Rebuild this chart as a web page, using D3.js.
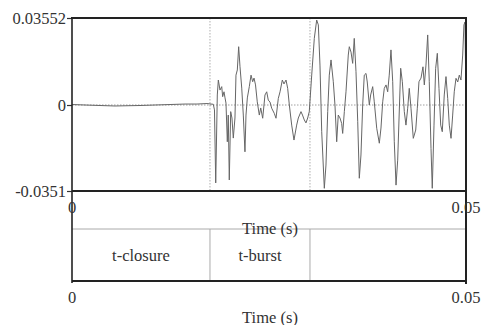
<!DOCTYPE html>
<html>
<head>
<meta charset="utf-8">
<script src="https://cdn.jsdelivr.net/npm/d3@7"></script>
<style>
html,body{margin:0;padding:0;background:#fff;}
svg text{font-family:"Liberation Serif","Times New Roman",serif;fill:#333;}
</style>
</head>
<body>
<svg id="chart" width="483" height="325"></svg>
<script>
// ---- data ----
const timeS = [0,0.00165,0.00355,0.00546,0.00698,0.00863,0.01053,0.01244,0.01434,0.01586,0.01713,0.01764,0.01793,0.01808,0.01824,0.01844,0.01857,0.01878,0.01900,0.01912,0.01929,0.01942,0.01954,0.01971,0.01983,0.01996,0.02014,0.02030,0.02047,0.02068,0.02081,0.02098,0.02115,0.02132,0.02154,0.02174,0.02195,0.02208,0.02225,0.02250,0.02272,0.02293,0.02310,0.02329,0.02351,0.02377,0.02395,0.02420,0.02449,0.02471,0.02491,0.02513,0.02534,0.02567,0.02589,0.02618,0.02640,0.02669,0.02690,0.02716,0.02737,0.02758,0.02788,0.02817,0.02851,0.02872,0.02906,0.02925,0.02948,0.02969,0.02991,0.03011,0.03042,0.03075,0.03105,0.03126,0.03147,0.03169,0.03202,0.03223,0.03245,0.03265,0.03287,0.03316,0.03337,0.03359,0.03379,0.03401,0.03422,0.03435,0.03456,0.03477,0.03506,0.03519,0.03541,0.03562,0.03582,0.03604,0.03626,0.03646,0.03667,0.03689,0.03709,0.03731,0.03747,0.03773,0.03790,0.03816,0.03836,0.03867,0.03900,0.03921,0.03943,0.03963,0.03985,0.04006,0.04026,0.04048,0.04070,0.04090,0.04112,0.04133,0.04171,0.04192,0.04217,0.04238,0.04260,0.04280,0.04302,0.04331,0.04362,0.04382,0.04403,0.04429,0.04454,0.04471,0.04492,0.04514,0.04534,0.04556,0.04572,0.04594,0.04615,0.04636,0.04657,0.04679,0.04699,0.04724,0.04746,0.04768,0.04788,0.04810,0.04831,0.04851,0.04873,0.04895,0.04915,0.04936,0.04958,0.04974,0.04987,0.04997];
const amplitude = [0.0002,0,-0.0002,-0.0004,-0.0003,-0.0002,0,0.0002,0.0004,0.0004,0.0006,0.0004,0.0003,-0.0020,-0.0318,0.0041,0.0102,0.0061,0.0075,0.0034,0.0054,0.0029,0.0008,-0.0150,-0.0041,-0.0306,-0.0027,-0.0053,-0.0135,-0.0053,0.0122,0.0143,0.0238,0.0156,0.0069,-0.0041,-0.0191,-0.0041,0.0029,0.0075,0.0122,0.0095,0.0110,0.0082,0.0013,-0.0041,-0.0012,-0.0054,0.0041,0.0054,0.0020,0.0012,-0.0013,-0.0034,-0.0054,0.0027,0.0054,0.0102,0.0086,0.0102,0.0068,0,-0.0082,-0.0143,-0.0082,-0.0053,-0.0027,-0.0041,-0.0061,-0.0073,-0.0053,-0.0027,0.0122,0.0272,0.0347,0.0327,0.0163,-0.0109,-0.0340,-0.0245,-0.0027,0.0122,0.0184,0.0095,0,-0.0150,-0.0041,-0.0053,-0.0075,-0.0116,-0.0027,0.0054,0.0204,0.0238,0.0216,0.0170,0.0272,0.0136,-0.0068,-0.0299,-0.0204,0,0.0122,0.0129,0.0094,0,0.0041,0.0075,0.0013,-0.0095,-0.0156,-0.0094,0.0013,0.0068,0.0082,0.0054,0.0122,0.0225,0.0095,-0.0150,-0.0327,-0.0225,0.0150,0.0095,-0.0027,-0.0082,-0.0013,0.0068,-0.0013,-0.0136,-0.0102,-0.0013,0.0095,0.0110,0.0156,0.0082,0.0163,0.0286,0.0095,-0.0177,-0.0340,-0.0082,0.0150,0.0211,0.0068,-0.0082,-0.0109,0.0041,0.0116,0.0027,-0.0082,-0.0136,-0.0041,0.0054,0.0109,0.0094,0.0122,0.0102,0.0204,0.0327,0.0339,0.0082];
const tierStarts = [0, 0.01751, 0.0302];
const tierEnds = [0.01751, 0.0302, 0.05];
const tierLabels = ["t-closure", "t-burst", ""];
const yTickValues = [-0.0351, 0, 0.03552];
const yTickLabels = ["-0.0351", "0", "0.03552"];
const xTickValues = [0, 0.05];
const xTickLabels = ["0", "0.05"];
const xTitle = "Time (s)";

// ---- layout ----
const svg = d3.select("#chart");
const L = 72, R = 466, T = 18, B = 191, tierTop = 229, tierBot = 281;
const x = d3.scaleLinear().domain([0, 0.05]).range([L, R]);
const y = d3.scaleLinear().domain([-0.0351, 0.03552]).range([B, T]);
const fs = 16.5;

// zero dotted line
svg.append("line").attr("x1", L).attr("x2", R).attr("y1", y(0)).attr("y2", y(0))
  .attr("stroke", "#888").attr("stroke-width", 0.8).attr("stroke-dasharray", "1.5,1.5");

// boundary dotted lines in top plot
svg.selectAll(".bnd").data(tierStarts.slice(1)).enter().append("line")
  .attr("x1", d => x(d)).attr("x2", d => x(d)).attr("y1", T).attr("y2", B)
  .attr("stroke", "#999").attr("stroke-width", 0.8).attr("stroke-dasharray", "1.5,1.5");

// waveform
const pts = timeS.map((t, i) => [t, amplitude[i]]);
svg.append("path").datum(pts)
  .attr("d", d3.line().x(d => x(d[0])).y(d => y(d[1])))
  .attr("fill", "none").attr("stroke", "#666").attr("stroke-width", 1);

// y axis ticks
const yAxis = d3.axisLeft(y).tickValues(yTickValues)
  .tickFormat((d, i) => yTickLabels[i]).tickSize(5).tickPadding(1);
const ya = svg.append("g").attr("transform", `translate(${L},0)`).call(yAxis);
ya.select(".domain").remove();
ya.selectAll("line").attr("stroke", "#333").attr("stroke-width", 1.2);
ya.selectAll("text").attr("font-size", fs).attr("fill", "#333")
  .style("font-family", '"Liberation Serif", serif');

// tier lines
svg.append("line").attr("x1", L).attr("x2", R).attr("y1", tierTop).attr("y2", tierTop)
  .attr("stroke", "#aaa").attr("stroke-width", 1);
svg.selectAll(".tb").data(tierStarts.slice(1)).enter().append("line")
  .attr("x1", d => x(d)).attr("x2", d => x(d)).attr("y1", tierTop).attr("y2", tierBot)
  .attr("stroke", "#aaa").attr("stroke-width", 1);
svg.selectAll(".tl").data(tierLabels).enter().append("text")
  .attr("x", (d, i) => x((tierStarts[i] + tierEnds[i]) / 2)).attr("y", 255)
  .attr("text-anchor", "middle").attr("dominant-baseline", "central")
  .attr("font-size", fs).text(d => d);

// frame
const frame = svg.append("g").attr("stroke", "#222").attr("fill", "none");
frame.append("line").attr("x1", L - 1).attr("x2", R + 1).attr("y1", T).attr("y2", T).attr("stroke-width", 2);
frame.append("line").attr("x1", L).attr("x2", R).attr("y1", B).attr("y2", B).attr("stroke-width", 2);
frame.append("line").attr("x1", L).attr("x2", R).attr("y1", tierBot).attr("y2", tierBot).attr("stroke-width", 2);
frame.append("line").attr("x1", L).attr("x2", L).attr("y1", T).attr("y2", tierBot + 2).attr("stroke-width", 1.6);
frame.append("line").attr("x1", R).attr("x2", R).attr("y1", T).attr("y2", tierBot + 3).attr("stroke-width", 2);

// x tick labels (top plot and tier)
[207, 297].forEach(yy => {
  svg.selectAll(null).data(xTickValues).enter().append("text")
    .attr("x", d => x(d)).attr("y", yy)
    .attr("text-anchor", "middle").attr("dominant-baseline", "central")
    .attr("font-size", fs).text((d, i) => xTickLabels[i]);
});
[228, 317].forEach(yy => {
  svg.append("text").attr("x", (L + R) / 2 + 1).attr("y", yy)
    .attr("text-anchor", "middle").attr("dominant-baseline", "central")
    .attr("font-size", fs).text(xTitle);
});
</script>
</body>
</html>
